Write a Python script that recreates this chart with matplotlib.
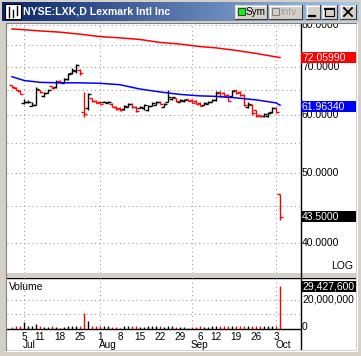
import matplotlib
matplotlib.use('Agg')
import matplotlib.pyplot as plt
import matplotlib.transforms as mtransforms
from matplotlib.patches import Rectangle
from matplotlib.ticker import NullLocator
import numpy as np
import pandas as pd

plt.rcParams['font.family'] = ['Liberation Sans', 'DejaVu Sans']

title = 'NYSE:LXK,D Lexmark Intl Inc'

# trading days Jun 29 - Oct 4 2005 (Jul 4 and Sep 5 were holidays)
days = [d.strftime('%Y-%m-%d') for d in pd.bdate_range('2005-06-29', '2005-10-04')
        if d.strftime('%m-%d') not in ('07-04', '09-05')]

opens = [66.1, 65.5, 64.8, 62.3, 62.5, 61.8, 62.0, 65.0, 63.8, 64.4,
         65.8, 65.7, 66.9, 66.5, 67.4, 68.5, 69.0, 69.3, 60.7, 61.3,
         63.3, 62.8, 62.6, 62.55, 62.45, 62.2, 61.6, 61.4, 61.2, 61.6,
         62.2, 61.6, 61.4, 61.3, 61.0, 61.8, 62.0, 62.6, 61.6, 62.6,
         63.2, 63.3, 62.6, 62.7, 63.1, 63.0, 62.8, 62.4, 62.0, 62.2,
         62.6, 63.0, 64.6, 64.4, 63.9, 63.7, 65.0, 64.6, 63.9, 61.5,
         62.0, 61.0, 60.0, 59.8, 59.9, 60.6, 61.3, 46.7]
highs = [66.1, 65.6, 64.9, 63.1, 62.9, 62.5, 65.6, 65.1, 64.5, 65.2,
         65.9, 67.0, 67.0, 67.6, 68.7, 69.6, 70.7, 69.4, 64.5, 64.3,
         63.4, 62.9, 62.7, 62.7, 62.7, 62.3, 61.7, 61.5, 61.9, 62.3,
         62.3, 61.7, 61.7, 62.1, 61.9, 62.5, 62.7, 62.7, 62.3, 65.1,
         63.6, 63.4, 63.2, 63.2, 63.2, 63.1, 62.9, 62.5, 62.5, 62.7,
         63.1, 64.7, 64.7, 64.5, 64.1, 64.9, 65.1, 64.7, 64.1, 62.5,
         62.1, 61.1, 60.1, 60.5, 60.7, 61.5, 61.5, 46.8]
lows = [65.5, 64.9, 64.1, 62.1, 62.3, 61.7, 61.9, 64.3, 63.6, 64.3,
        65.2, 65.5, 66.5, 66.4, 67.2, 68.3, 68.7, 68.2, 59.6, 61.1,
        62.5, 62.3, 62.1, 62.5, 62.3, 61.5, 61.1, 60.9, 61.1, 61.5,
        61.3, 60.7, 61.3, 61.1, 60.9, 61.7, 61.9, 62.1, 61.5, 62.5,
        63.0, 62.5, 62.5, 62.5, 62.7, 62.3, 62.1, 61.7, 61.9, 62.1,
        62.5, 62.7, 63.6, 63.6, 62.7, 63.6, 64.1, 63.8, 61.7, 61.3,
        60.1, 59.75, 59.75, 59.75, 59.75, 60.5, 60.5, 43.0]
closes = [65.6, 65.0, 64.2, 62.6, 62.6, 61.9, 65.2, 64.6, 64.3, 65.0,
          65.4, 66.6, 66.6, 67.3, 68.4, 69.3, 70.4, 68.5, 60.2, 64.1,
          62.7, 62.4, 62.2, 62.6, 62.6, 61.6, 61.2, 61.0, 61.7, 62.1,
          61.6, 60.9, 61.6, 61.9, 61.7, 62.3, 62.5, 62.2, 62.1, 63.5,
          63.5, 62.7, 63.0, 63.0, 62.8, 62.4, 62.2, 61.8, 62.3, 62.6,
          63.0, 64.4, 63.8, 63.8, 62.8, 64.7, 64.3, 64.0, 61.9, 62.2,
          60.4, 59.9, 59.8, 60.3, 60.5, 61.3, 60.7, 43.5]
volume_m = [1.4, 2.3, 1.8, 4.5, 1.8, 1.8, 3.6, 1.8, 1.4, 1.4,
            1.8, 1.4, 0.9, 1.4, 1.8, 1.8, 2.3, 2.3, 10.7, 5.7,
            2.3, 2.3, 2.3, 1.8, 1.8, 1.4, 1.4, 0.9, 1.8, 1.8,
            2.3, 2.3, 1.4, 1.4, 2.3, 1.8, 1.8, 1.8, 1.4, 2.3,
            1.8, 1.4, 1.4, 1.4, 0.9, 1.4, 1.4, 1.8, 1.4, 1.4,
            1.8, 1.8, 1.8, 1.8, 1.8, 1.8, 1.8, 1.8, 1.8, 2.3,
            2.3, 2.3, 1.8, 1.8, 1.8, 2.3, 2.3, 29.4276]

ma_dates = ['2005-06-29', '2005-07-05', '2005-07-11', '2005-07-18', '2005-07-25',
            '2005-08-01', '2005-08-08', '2005-08-15', '2005-08-22', '2005-08-29',
            '2005-09-06', '2005-09-12', '2005-09-19', '2005-09-26', '2005-10-03',
            '2005-10-04']
ma_fast = [67.8, 67.0, 66.6, 66.5, 66.5, 66.4, 66.1, 65.2, 64.6, 64.1,
           63.8, 63.7, 63.4, 63.0, 62.4, 61.9634]
ma_slow = [78.9, 78.7, 78.4, 78.1, 77.6, 77.0, 76.7, 76.3, 75.6, 75.2,
           74.6, 74.3, 73.7, 73.0, 72.2, 72.0599]

tick_dates = ['2005-07-05', '2005-07-11', '2005-07-18', '2005-07-25', '2005-08-01',
              '2005-08-08', '2005-08-15', '2005-08-22', '2005-08-29', '2005-09-06',
              '2005-09-12', '2005-09-19', '2005-09-26', '2005-10-03']
month_starts = ['2005-07-05', '2005-08-01', '2005-09-01', '2005-10-03']
month_names = ['Jul', 'Aug', 'Sep', 'Oct']
price_labels = [40, 50, 60, 70, 80]

pos = {d: i for i, d in enumerate(days)}
x = np.arange(len(days))
cols = ['#ff0000' if c < o else '#000000' for o, c in zip(opens, closes)]

W, H = 361, 356
fig = plt.figure(figsize=(W / 100, H / 100), dpi=100)
fig.patch.set_facecolor('#d4d0c8')


def px_rect(x0, y0, x1, y1):
    return [x0 / W, 1 - y1 / H, (x1 - x0) / W, (y1 - y0) / H]


fs = 7.5
grid_kw = dict(color='#9a9a9a', lw=0.75, ls=(0, (1, 3)), zorder=0)

# background: client area
bg = fig.add_axes([0, 0, 1, 1], zorder=0)
bg.set_xlim(0, W)
bg.set_ylim(H, 0)
bg.axis('off')
bg.add_patch(Rectangle((6, 23), 350, 327, fc='white', ec='none'))
bg.add_patch(Rectangle((6, 273), 350, 3.5, fc='#d4d0c8', ec='none'))
bg.plot([6, 356], [277.5, 277.5], color='black', lw=1)
bg.plot([300.5, 300.5], [23, 350], color='black', lw=1)

# price pane
ax = fig.add_axes(px_rect(7, 23, 300, 273), zorder=1)
ax.set_facecolor('none')
ax.set_yscale('log')
ax.set_ylim(36.37, 80.4)
ax.set_xlim(-1.25, 72)
ax.yaxis.set_major_locator(NullLocator())
ax.yaxis.set_minor_locator(NullLocator())
ax.set_xticks([])
for s in ax.spines.values():
    s.set_visible(False)
for v in range(40, 81, 5):
    ax.axhline(v, **grid_kw)
for m in month_starts:
    ax.axvline(pos[m], **grid_kw)

ax.vlines(x, lows, highs, colors=cols, lw=1.0, zorder=2)
ax.hlines(opens, x - 0.75, x, colors=cols, lw=1.0, zorder=2)
ax.hlines(closes, x, x + 0.75, colors=cols, lw=1.0, zorder=2)
ma_x = [pos[d] for d in ma_dates]
ax.plot(ma_x, ma_slow, color='#ff0000', lw=1.1, zorder=3)
ax.plot(ma_x, ma_fast, color='#0000ff', lw=1.1, zorder=3)


def py(axis, v):
    return H - axis.transData.transform((0, v))[1]


for v in price_labels:
    bg.text(302, py(ax, v), '%.4f' % v, fontsize=fs, va='center', ha='left')


def value_box(y, txt, fc):
    bg.add_patch(Rectangle((301, y - 5.5), 56, 11, fc=fc, ec='none', zorder=3))
    bg.text(302, y, txt, fontsize=fs, va='center', ha='left', color='white', zorder=4)


value_box(py(ax, ma_slow[-1]), '%.5f' % ma_slow[-1], '#ff0000')
value_box(py(ax, ma_fast[-1]) + 1.5, '%.5f' % ma_fast[-1], '#0000ff')
value_box(py(ax, closes[-1]), '%.4f' % closes[-1], '#000000')
bg.text(353, 271, 'LOG', fontsize=fs, ha='right', va='bottom')

# volume pane
vax = fig.add_axes(px_rect(7, 277, 300, 329), zorder=1)
vax.set_facecolor('none')
vax.set_xlim(-1.25, 72)
vax.set_ylim(0, 35.6)
vax.set_yticks([])
vax.set_xticks([])
for k, s in vax.spines.items():
    s.set_visible(k == 'bottom')
vax.spines['bottom'].set_linewidth(1.0)
for v in (10, 20):
    vax.axhline(v, **grid_kw)
for m in month_starts:
    vax.axvline(pos[m], **grid_kw)
vax.vlines(x, 0, volume_m, colors=cols, lw=1.0, zorder=2)
vax.text(0.005, 0.9, 'Volume', transform=vax.transAxes, fontsize=fs, va='top', ha='left')

value_box(py(vax, volume_m[-1]), '{:,}'.format(int(round(volume_m[-1] * 1e6))), '#000000')
bg.text(302, py(vax, 20), '20,000,000', fontsize=fs, va='center', ha='left')
bg.text(302, py(vax, 0) + 1, '0', fontsize=fs, va='baseline', ha='left')

trans = mtransforms.blended_transform_factory(vax.transData, vax.transAxes)
for d in tick_dates:
    vax.text(pos[d], -0.205, str(int(d[-2:])), transform=trans, fontsize=7.2,
             ha='center', va='baseline', clip_on=False)
for d, name in zip(month_starts, month_names):
    vax.text(pos[d] - 0.25, -0.375, name, transform=trans, fontsize=7.2,
             ha='left', va='baseline', clip_on=False)

# window frame and title bar
top = fig.add_axes([0, 0, 1, 1], zorder=5)
top.patch.set_visible(False)
top.axis('off')
frame = '#d4d0c8'
top.add_patch(Rectangle((0, 0), W, 23, fc=frame, ec='none'))
top.add_patch(Rectangle((0, 0), 6, H, fc=frame, ec='none'))
top.add_patch(Rectangle((356, 0), 5, H, fc=frame, ec='none'))
top.add_patch(Rectangle((0, 350), W, 6, fc=frame, ec='none'))
top.plot([5.5, 5.5], [22.5, 350.5], color='#808080', lw=0.8)
top.plot([5.5, 356.5], [22.5, 22.5], color='#808080', lw=0.8)
top.plot([356.5, 356.5], [22.5, 350.5], color='white', lw=0.8)
top.plot([5.5, 356.5], [350.5, 350.5], color='white', lw=0.8)

grad = np.linspace(0, 1, 256)
c0 = np.array([10, 36, 106]) / 255
c1 = np.array([166, 202, 240]) / 255
img = (c0[None, :] * (1 - grad[:, None]) + c1[None, :] * grad[:, None])[None, :, :]
top.imshow(img, extent=(2, 359, 21, 2), aspect='auto', zorder=1)

top.add_patch(Rectangle((5, 4), 16, 15, fc='white', ec='black', lw=0.8, zorder=2))
top.plot([9, 9], [7, 17], color='black', lw=1, zorder=3)
top.plot([13, 13], [10, 17], color='black', lw=1, zorder=3)
top.plot([17, 17], [6, 15], color='black', lw=1, zorder=3)
top.text(23, 12, title, color='white', fontweight='bold', fontsize=7.6,
         va='center', ha='left', zorder=3)


def button(x0, x1):
    top.add_patch(Rectangle((x0, 5), x1 - x0, 14, fc=frame, ec='none', zorder=2))
    top.plot([x0, x1], [5.5, 5.5], color='white', lw=0.8, zorder=3)
    top.plot([x0 + 0.5, x0 + 0.5], [5, 19], color='white', lw=0.8, zorder=3)
    top.plot([x0, x1], [18.5, 18.5], color='#404040', lw=0.8, zorder=3)
    top.plot([x1 - 0.5, x1 - 0.5], [5, 19], color='#404040', lw=0.8, zorder=3)


button(235, 267)
top.add_patch(Rectangle((238, 8), 7, 7, fc='#00ff00', ec='#404040', lw=0.8, zorder=3))
top.text(246, 12, 'Sym', fontsize=7.2, va='center', ha='left', zorder=4)
button(269, 302)
top.add_patch(Rectangle((272, 8), 7, 7, fc=frame, ec='#808080', lw=0.8, zorder=3))
top.text(280, 12, 'Intv', fontsize=7.2, va='center', ha='left', color='#a0a0a0', zorder=4)
button(306, 320)
top.plot([309, 315], [16, 16], color='black', lw=1.6, zorder=4)
button(322, 337)
top.add_patch(Rectangle((325, 8), 9, 8, fc='none', ec='black', lw=0.8, zorder=4))
top.plot([325, 334], [8.5, 8.5], color='black', lw=1.4, zorder=4)
button(340, 356)
top.plot([344, 352], [8, 16], color='black', lw=1.3, zorder=4)
top.plot([344, 352], [16, 8], color='black', lw=1.3, zorder=4)

top.set_xlim(0, W)
top.set_ylim(H, 0)

fig.savefig('out.png', dpi=100, facecolor=fig.get_facecolor())
